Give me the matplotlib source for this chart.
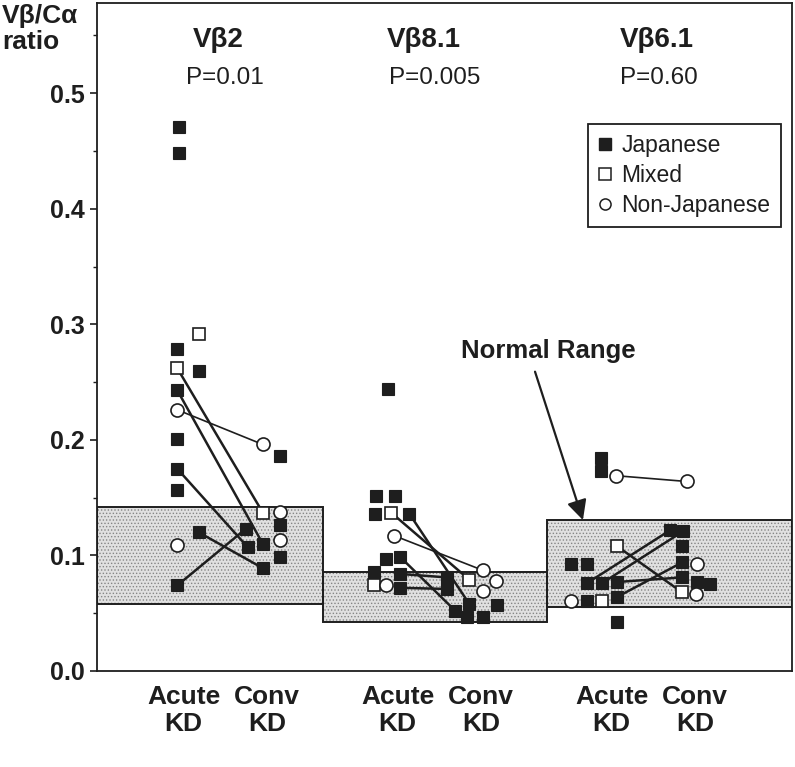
import matplotlib
matplotlib.use("Agg")
import matplotlib.pyplot as plt
from matplotlib.patches import Rectangle, FancyArrowPatch
from matplotlib.lines import Line2D
from matplotlib.transforms import blended_transform_factory

plt.rcParams['font.family'] = ['Liberation Sans', 'DejaVu Sans']
plt.rcParams['hatch.linewidth'] = 0.6

# ---------------- data ----------------
groups = ["V\u03b22", "V\u03b28.1", "V\u03b26.1"]
p_values = ["P=0.01", "P=0.005", "P=0.60"]
normal_low = [0.058, 0.042, 0.055]
normal_high = [0.142, 0.086, 0.131]

# Vbeta2
vb2_acute = [0.471, 0.448, 0.292, 0.279, 0.262, 0.260, 0.243, 0.226, 0.201, 0.175, 0.157, 0.120, 0.109, 0.074]
vb2_acute_type = "JJMJMJJOJJJJOJ"
vb2_acute_jit = [0.01, 0.01, 0.10, 0, 0, 0.10, 0, 0, 0, 0, 0, 0.10, 0, 0]
vb2_conv = [0.196, 0.186, 0.138, 0.137, 0.126, 0.123, 0.113, 0.110, 0.107, 0.099, 0.089]
vb2_conv_type = "OJOMJJOJJJJ"
vb2_conv_jit = [0, 0.08, 0.08, 0, 0.08, -0.08, 0.08, 0, -0.07, 0.08, 0]
vb2_pairs = [(4, 3), (6, 7), (7, 0), (9, 8), (11, 10), (13, 5)]

# Vbeta8.1
vb81_acute = [0.244, 0.151, 0.151, 0.136, 0.137, 0.136, 0.117, 0.097, 0.099, 0.086, 0.084, 0.074, 0.074, 0.072]
vb81_acute_type = "JJJJMJOJJJJMOJ"
vb81_acute_jit = [-0.015, -0.07, 0.02, -0.075, 0, 0.085, 0.015, -0.025, 0.04, -0.08, 0.04, -0.08, -0.025, 0.04]
vb81_conv = [0.087, 0.081, 0.079, 0.078, 0.071, 0.069, 0.058, 0.057, 0.052, 0.047, 0.047]
vb81_conv_type = "OJMOJOJJJJJ"
vb81_conv_jit = [0.03, -0.14, -0.035, 0.09, -0.14, 0.03, -0.035, 0.095, -0.10, -0.045, 0.03]
vb81_pairs = [(4, 2), (5, 6), (6, 0), (8, 8), (10, 1), (13, 4)]

# Vbeta6.1
vb61_acute = [0.184, 0.173, 0.169, 0.108, 0.093, 0.093, 0.076, 0.076, 0.077, 0.061, 0.061, 0.061, 0.064, 0.042]
vb61_acute_type = "JJOMJJJJJOJMJJ"
vb61_acute_jit = [-0.02, -0.02, 0.05, 0.055, -0.16, -0.085, -0.085, -0.015, 0.055, -0.16, -0.085, -0.015, 0.055, 0.055]
vb61_conv = [0.164, 0.122, 0.121, 0.108, 0.094, 0.093, 0.081, 0.077, 0.075, 0.068, 0.067]
vb61_conv_type = "OJJJJOJJJMO"
vb61_conv_jit = [-0.02, -0.095, -0.035, -0.04, -0.04, 0.03, -0.04, 0.03, 0.09, -0.04, 0.025]
vb61_pairs = [(2, 0), (3, 9), (6, 1), (7, 2), (8, 6), (12, 4)]

legend_labels = ["Japanese", "Mixed", "Non-Japanese"]
x_labels = ["Acute\nKD", "Conv\nKD"]

series = [
    (vb2_acute, vb2_acute_type, vb2_acute_jit, vb2_conv, vb2_conv_type, vb2_conv_jit, vb2_pairs),
    (vb81_acute, vb81_acute_type, vb81_acute_jit, vb81_conv, vb81_conv_type, vb81_conv_jit, vb81_pairs),
    (vb61_acute, vb61_acute_type, vb61_acute_jit, vb61_conv, vb61_conv_type, vb61_conv_jit, vb61_pairs),
]

# ---------------- figure ----------------
W, H = 795, 767
fig = plt.figure(figsize=(W / 100, H / 100), dpi=100)
ax = fig.add_axes([97 / W, 96 / H, 695 / W, 668 / H])
ax.set_xlim(0.425, 3.673)
ax.set_ylim(0, 0.578)

ink = '#1e1e1e'
box_edges = [0.425, 1.481, 2.528, 3.673]

for i in range(3):
    x0, x1 = box_edges[i], box_edges[i + 1]
    ax.add_patch(Rectangle((x0, normal_low[i]), x1 - x0, normal_high[i] - normal_low[i],
                           facecolor='#e0e0e0', edgecolor='#858585', hatch='.....', lw=0, zorder=1))
    ax.add_patch(Rectangle((x0, normal_low[i]), x1 - x0, normal_high[i] - normal_low[i],
                           facecolor='none', edgecolor=ink, lw=1.4, zorder=1.5))

style = {
    'J': dict(marker='s', ms=9.0, mfc=ink, mec=ink, mew=0.8),
    'M': dict(marker='s', ms=9.0, mfc='white', mec=ink, mew=1.2),
    'O': dict(marker='o', ms=9.4, mfc='white', mec=ink, mew=1.2),
}

for gi, (acu, acu_t, acu_j, con, con_t, con_j, pairs) in enumerate(series):
    g = gi + 1
    xa = [g - 0.2 + j for j in acu_j]
    xc = [g + 0.2 + j for j in con_j]
    for a, c in pairs:
        lw = 1.2 if acu_t[a] == 'O' else 1.8
        ax.plot([xa[a], xc[c]], [acu[a], con[c]], color=ink, lw=lw, zorder=2,
                solid_capstyle='butt')
    for x, v, t in zip(xa, acu, acu_t):
        ax.plot([x], [v], ls='none', zorder=3, **style[t])
    for x, v, t in zip(xc, con, con_t):
        ax.plot([x], [v], ls='none', zorder=3, **style[t])

# group titles
tr = blended_transform_factory(ax.transData, ax.transAxes)
title_x = [0.99, 1.953, 3.04]
p_x = [1.023, 2.005, 3.05]
for gi in range(3):
    ax.text(title_x[gi], 0.945, groups[gi], transform=tr, ha='center', va='center',
            fontsize=20, fontweight='bold', color=ink)
    ax.text(p_x[gi], 0.887, p_values[gi], transform=tr, ha='center', va='center',
            fontsize=17.5, color=ink)
    ax.text(gi + 1 - 0.17, -0.021, x_labels[0], transform=tr, ha='center', va='top',
            fontsize=19, fontweight='bold', color=ink, linespacing=1.15)
    ax.text(gi + 1 + 0.22, -0.021, x_labels[1], transform=tr, ha='center', va='top',
            fontsize=19, fontweight='bold', color=ink, linespacing=1.15)

# Normal range annotation
ax.text(2.533, 0.277, "Normal Range", ha='center', va='center', fontsize=18.5,
        fontweight='bold', color=ink)
ax.add_patch(FancyArrowPatch((2.472, 0.259), (2.696, 0.1306), arrowstyle='-|>',
                             mutation_scale=30, lw=1.6, color=ink, zorder=4,
                             shrinkA=0, shrinkB=0))

# legend
handles = [Line2D([], [], ls='none', marker='s', ms=8, mfc=ink, mec=ink),
           Line2D([], [], ls='none', marker='s', ms=8, mfc='white', mec=ink, mew=1.1),
           Line2D([], [], ls='none', marker='o', ms=8, mfc='white', mec=ink, mew=1.1)]
leg = ax.legend(handles, legend_labels, loc='upper left', bbox_to_anchor=(0.7065, 0.819),
                borderaxespad=0, frameon=True, fancybox=False, fontsize=16.5,
                handlelength=0.6, handletextpad=0.4, labelspacing=0.3, borderpad=0.45,
                edgecolor=ink, framealpha=1)
leg.get_frame().set_linewidth(1.3)
for t in leg.get_texts():
    t.set_color(ink)

# axes styling
ax.set_xticks([])
ax.set_yticks([0.0, 0.1, 0.2, 0.3, 0.4, 0.5])
ax.set_yticklabels(["0.0", "0.1", "0.2", "0.3", "0.4", "0.5"], fontsize=18,
                   fontweight='bold', color=ink)
ax.set_yticks([0.05, 0.15, 0.25, 0.35, 0.45, 0.55], minor=True)
ax.tick_params(axis='y', which='major', length=5, width=1.2, pad=4, color=ink)
ax.tick_params(axis='y', which='minor', length=3, width=1.0, color=ink)
for s in ax.spines.values():
    s.set_linewidth(1.3)
    s.set_color(ink)

fig.text(2 / W, 1 - 4 / H, "V\u03b2/C\u03b1\nratio", ha='left', va='top', fontsize=19,
         fontweight='bold', color=ink, linespacing=1.1)

fig.savefig("out.png", dpi=100, facecolor='white')
